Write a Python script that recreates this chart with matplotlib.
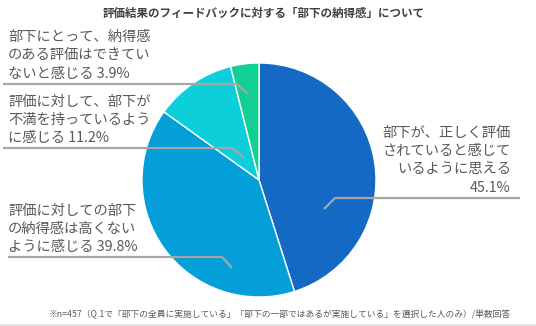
import matplotlib
matplotlib.use("Agg")
import matplotlib.pyplot as plt

plt.rcParams['font.family'] = ['Noto Sans CJK JP', 'DejaVu Sans']

title = "評価結果のフィードバックに対する「部下の納得感」について"
footnote = "※n=457（Q.1で「部下の全員に実施している」「部下の一部ではあるが実施している」を選択した人のみ）/単数回答"
categories = [
    "部下が、正しく評価されていると感じているように思える",
    "評価に対しての部下の納得感は高くないように感じる",
    "評価に対して、部下が不満を持っているように感じる",
    "部下にとって、納得感のある評価はできていないと感じる",
]
values = [45.1, 39.8, 11.2, 3.9]
colors = ["#1469C4", "#049ED9", "#0CCFD9", "#12CF96"]

label_lines = [
    ["部下が、正しく評価", "されていると感じて", "いるように思える", "45.1%"],
    ["評価に対しての部下", "の納得感は高くない", "ように感じる 39.8%"],
    ["評価に対して、部下が", "不満を持っているよう", "に感じる 11.2%"],
    ["部下にとって、納得感", "のある評価はできてい", "ないと感じる 3.9%"],
]

W, H = 536, 326
fig = plt.figure(figsize=(W / 100, H / 100), dpi=100)
cx, cy, r = 259, 180, 117
ax = fig.add_axes([(cx - r) / W, 1 - (cy + r) / H, 2 * r / W, 2 * r / H])
ax.pie(values, colors=colors, startangle=90, counterclock=False,
       wedgeprops=dict(edgecolor="white", linewidth=1.0))
ax.set_xlim(-1, 1)
ax.set_ylim(-1, 1)
ax.set_aspect("auto")
ax.axis("off")

ov = fig.add_axes([0, 0, 1, 1], zorder=5)
ov.set_xlim(0, W)
ov.set_ylim(H, 0)
ov.axis("off")
ov.patch.set_alpha(0)

txt_color = "#595959"
line_color = "#A6A6A6"
fs = 10.3

ov.text(264, 13, title, ha="center", va="center", fontsize=8.3,
        fontweight="bold", color="#404040")

# label layout: (x, align, line y centres, leader polyline)
layouts = [
    (511, "right", [133, 151, 169, 188], [(520, 198), (335, 198), (324, 209)]),
    (8, "left", [211, 229, 247], [(8, 257), (222, 257), (232, 268)]),
    (8, "left", [102, 120, 138], [(3, 148), (232, 148), (244, 158)]),
    (8, "left", [37, 55, 74], [(3, 84), (237, 84), (248, 94)]),
]
for lines, (x, ha, ys, poly) in zip(label_lines, layouts):
    for s, y in zip(lines, ys):
        ov.text(x, y, s, ha=ha, va="center", fontsize=fs, color=txt_color)
    ov.plot([p[0] for p in poly], [p[1] for p in poly], color=line_color, lw=1.6,
            solid_capstyle="butt")

ov.text(511, 314, footnote, ha="right", va="center", fontsize=6.3, color="#595959")
ov.plot([0, W], [324.5, 324.5], color="#E0E0E0", lw=1.2)

fig.savefig("out.png", dpi=100)
